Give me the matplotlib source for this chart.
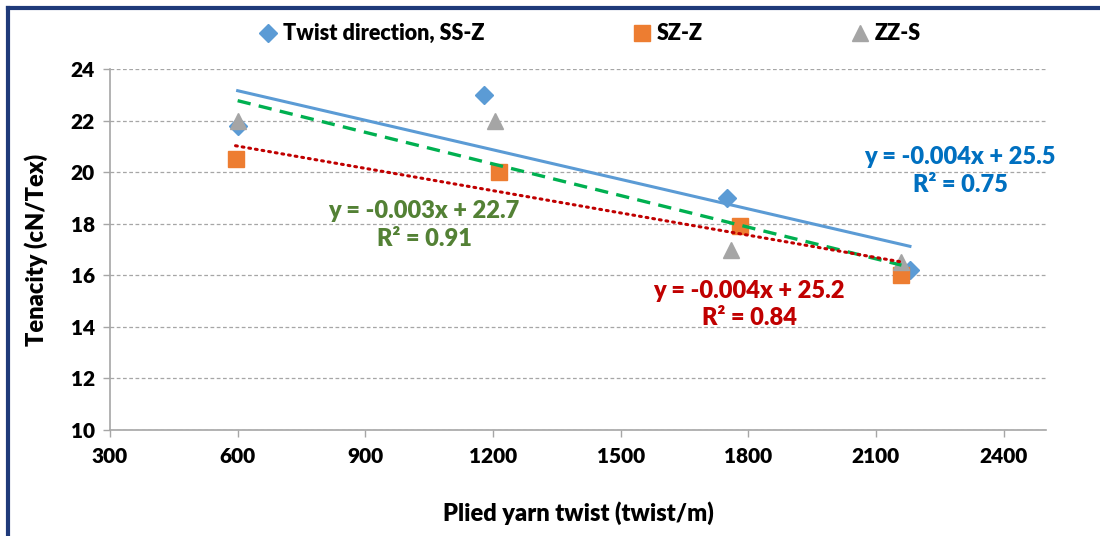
import numpy as np
import matplotlib; matplotlib.use('Agg')
import matplotlib.pyplot as plt
from matplotlib.lines import Line2D

plt.rcParams['font.family'] = ['Lato', 'DejaVu Sans']
plt.rcParams['font.weight'] = 'bold'
plt.rcParams['axes.labelweight'] = 'bold'

# data
ssz_x = [600, 1180, 1750, 2180]
ssz_y = [21.8, 23.0, 19.0, 16.2]
szz_x = [595, 1215, 1780, 2160]
szz_y = [20.5, 20.0, 17.9, 16.0]
zzs_x = [600, 1205, 1760, 2160]
zzs_y = [22.0, 22.0, 17.0, 16.5]

series_names = ['Twist direction, SS-Z', 'SZ-Z', 'ZZ-S']
eq_texts = ['y = -0.004x + 25.5\nR² = 0.75',
            'y = -0.004x + 25.2\nR² = 0.84',
            'y = -0.003x + 22.7\nR² = 0.91']
x_ticks = [300, 600, 900, 1200, 1500, 1800, 2100, 2400]
y_ticks = [10, 12, 14, 16, 18, 20, 22, 24]

fig = plt.figure(figsize=(11, 5.36), dpi=100)
ax = fig.add_axes([0.1, 0.198, 0.851, 0.673])

def trend(x, y, **kw):
    p = np.polyfit(x, y, 1)
    xx = np.array([min(x), max(x)])
    ax.plot(xx, np.polyval(p, xx), zorder=3, **kw)

# markers first, trend lines on top (as in the original)
ax.plot(ssz_x, ssz_y, 'D', color='#5B9BD5', ms=9, ls='none', label=series_names[0], zorder=2)
ax.plot(szz_x, szz_y, 's', color='#ED7D31', ms=11, ls='none', label=series_names[1], zorder=2)
ax.plot(zzs_x, zzs_y, '^', color='#A5A5A5', ms=12, ls='none', label=series_names[2], zorder=2)

trend(ssz_x, ssz_y, color='#5B9BD5', lw=2.2, ls='-')
trend(zzs_x, zzs_y, color='#00B050', lw=2.4, ls=(0, (4, 2.5)))
trend(szz_x, szz_y, color='#C00000', lw=2.2, ls=(0, (0.6, 1.6)), dash_capstyle='round')

eq_kw = dict(fontsize=17, fontweight='heavy', ha='center', va='center', linespacing=1.3)
ax.text(2298, 20.05, eq_texts[0], color='#0070C0', **eq_kw)
ax.text(1802, 14.87, eq_texts[1], color='#C00000', **eq_kw)
ax.text(1038, 17.95, eq_texts[2], color='#538135', **eq_kw)

ax.set_xlim(300, 2500)
ax.set_ylim(10, 24)
ax.set_xticks(x_ticks)
ax.set_yticks(y_ticks)
ax.tick_params(axis='both', labelsize=15, colors='#A6A6A6', labelcolor='black',
               length=5, width=1)
ax.tick_params(axis='x', pad=7)
ax.tick_params(axis='y', pad=6)
for lab in ax.get_xticklabels() + ax.get_yticklabels():
    lab.set_fontweight('heavy')
for s in ['top', 'right']:
    ax.spines[s].set_visible(False)
for s in ['left', 'bottom']:
    ax.spines[s].set_color('#A6A6A6')
    ax.spines[s].set_linewidth(1.2)
ax.yaxis.grid(True, color='#A6A6A6', ls=(0, (3, 2)), lw=0.9)
ax.set_axisbelow(True)

ax.set_xlabel('Plied yarn twist (twist/m)', fontsize=17, fontweight='heavy', labelpad=26)
ax.set_ylabel('Tenacity (cN/Tex)', fontsize=17, fontweight='heavy', labelpad=16)

leg = ax.legend(loc='lower center', bbox_to_anchor=(0.512, 1.015), ncol=3, frameon=False,
                prop={'size': 15.5, 'weight': 'heavy'}, columnspacing=6.8,
                handletextpad=0.2, handlelength=1.0)

# dark frame lines on left and top
fig.add_artist(Line2D([0.0075, 0.0075], [0, 0.985], color='#1F3A7A', lw=3,
                      transform=fig.transFigure))
fig.add_artist(Line2D([0.0075, 1], [0.985, 0.985], color='#1F3A7A', lw=3,
                      transform=fig.transFigure))

fig.savefig('out.png', dpi=100)
